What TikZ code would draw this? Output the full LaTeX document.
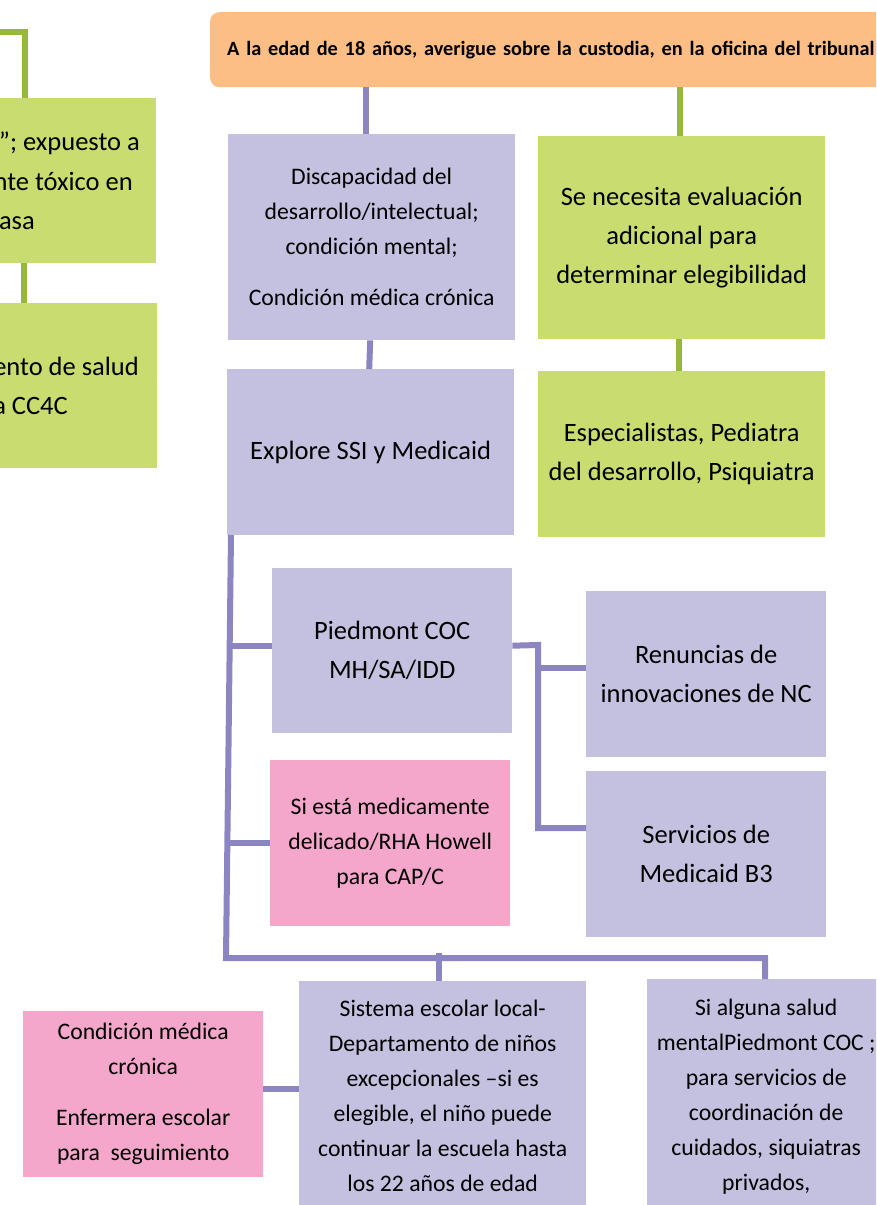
\documentclass[tikz,border=0pt]{standalone}
\usepackage{fontspec}
\setmainfont{Carlito}
\definecolor{lavc}{HTML}{C4C0DF}
\definecolor{grnc}{HTML}{C8DC70}
\definecolor{pnkc}{HTML}{F4A6CB}
\definecolor{orgc}{HTML}{FDBE86}
\definecolor{plc}{HTML}{8B85C1}
\definecolor{glc}{HTML}{96B83B}
\begin{document}
\begin{tikzpicture}[x=1pt,y=-1pt,
  bx/.style={inner sep=0pt, align=center, anchor=north west, text=black},
  lavbox/.style={bx, fill=lavc},
  grnbox/.style={bx, fill=grnc},
  pnkbox/.style={bx, fill=pnkc},
  big/.style={font=\fontsize{26.5pt}{39pt}\selectfont},
  med/.style={font=\fontsize{23.7pt}{35pt}\selectfont},
  frag/.style={inner sep=0pt, anchor=base east, font=\fontsize{26.5pt}{39pt}\selectfont},
  pl/.style={draw=plc, line width=6pt, line join=miter},
  gl/.style={draw=glc, line width=5.5pt, line join=miter},
]
\useasboundingbox (0,0) rectangle (876,1205);
\clip (0,0) rectangle (876,1205);

% title
\node[bx, fill=orgc, rounded corners=9pt, minimum width=720pt, minimum height=75pt,
      text width=686pt, align=left, inner xsep=17pt,
      font=\bfseries\fontsize{20.3pt}{24pt}\selectfont] (title) at (210,12)
  {A la edad de 18 años, averigue sobre la custodia, en la oficina del tribunal};

% left cut-off green boxes
\node[grnbox, anchor=north east, minimum width=300pt, minimum height=165pt] (lg1) at (156,98) {};
\node[frag] (lg1a) at (140,150) {”; expuesto a};
\node[frag] (lg1b) at (133,190) {nte tóxico en};
\node[frag] (lg1c) at (35,229) {asa};
\node[grnbox, anchor=north east, minimum width=300pt, minimum height=165pt] (lg2) at (157,303) {};
\node[frag] (lg2a) at (139,375) {ento de salud};
\node[frag] (lg2b) at (68,414) {a CC4C};

% right column top
\node[lavbox, med, minimum width=287pt, minimum height=206pt] (dis) at (228,134)
  {Discapacidad del\\desarrollo/intelectual;\\condición mental;\\[16pt]Condición médica crónica};
\node[grnbox, big, minimum width=287pt, minimum height=203pt] (eval) at (538,136)
  {Se necesita evaluación\\adicional para\\determinar elegibilidad};
\node[lavbox, big, minimum width=287pt, minimum height=166pt] (explore) at (227,369)
  {Explore SSI y Medicaid};
\node[grnbox, big, minimum width=287pt, minimum height=166pt] (spec) at (538,371)
  {Especialistas, Pediatra\\del desarrollo, Psiquiatra};

% middle
\node[lavbox, big, minimum width=240pt, minimum height=165pt] (piedmont) at (272,568)
  {Piedmont COC\\MH/SA/IDD};
\node[lavbox, big, minimum width=240pt, minimum height=166pt] (renuncias) at (586,591)
  {Renuncias de\\innovaciones de NC};
\node[lavbox, big, minimum width=240pt, minimum height=166pt] (servicios) at (586,771)
  {Servicios de\\Medicaid B3};
\node[pnkbox, med, minimum width=240pt, minimum height=166pt] (medic) at (270,760)
  {Si está medicamente\\delicado/RHA Howell\\para CAP/C};

% bottom
\node[pnkbox, med, minimum width=240pt, minimum height=166pt] (cronica) at (23,1011)
  {Condición médica\\crónica\\[16pt]Enfermera escolar\\para\ \ seguimiento};
\node[lavbox, med, minimum width=287pt, minimum height=230pt] (sistema) at (299,981)
  {Sistema escolar local-\\Departamento de niños\\excepcionales –si es\\elegible, el niño puede\\continuar la escuela hasta\\los 22 años de edad};
\node[lavbox, med, minimum width=238pt, minimum height=234pt] (alguna) at (647,979)
  {Si alguna salud\\mentalPiedmont COC ;\\para servicios de\\coordinación de\\cuidados, siquiatras\\privados,};

% green connectors
\coordinate (g0) at (0,32);
\coordinate (g1) at (25,32);
\draw[gl] (g0) -- (g1) -- (g1 |- lg1.north);
\draw[gl] ([xshift=-1pt]lg1.south -| g1) -- ([xshift=-1pt]lg2.north -| g1);
\draw[gl] ([xshift=-1.5pt]eval.north |- title.south) -- ([xshift=-1.5pt]eval.north);
\draw[gl] ([xshift=-2.5pt]eval.south) -- ([xshift=-2.5pt]spec.north);

% purple connectors
\draw[pl] ([xshift=-5.5pt]dis.north |- title.south) -- ([xshift=-5.5pt]dis.north);
\draw[pl] ([xshift=-1.5pt]dis.south) -- ([xshift=-1.5pt]explore.south |- explore.north);
\coordinate (s0) at (231,535);
\coordinate (s1) at (226,958);
\coordinate (s2) at (765,958);
\draw[pl] (s0) -- (s1) -- (s2) -- (s2 |- alguna.north);
\draw[pl] ([yshift=5pt]piedmont.west) -- ([yshift=5pt]piedmont.west -| s0);
\draw[pl] (medic.west) -- (medic.west -| s1);
\draw[pl] ([xshift=-4pt]sistema.north) -- ([xshift=-4pt,yshift=5pt]sistema.north |- s1);
\coordinate (j1) at (538,645);
\coordinate (j2) at (538,828);
\draw[pl] ([yshift=5pt]piedmont.east) -- (j1) -- (j2) -- (j2 -| servicios.west);
\draw[pl] ([yshift=6pt]j1 |- renuncias.west) -- ([yshift=6pt]renuncias.west);
\draw[pl] ([yshift=5pt]cronica.east) -- ([yshift=5pt]cronica.east -| sistema.west);
\end{tikzpicture}
\end{document}
